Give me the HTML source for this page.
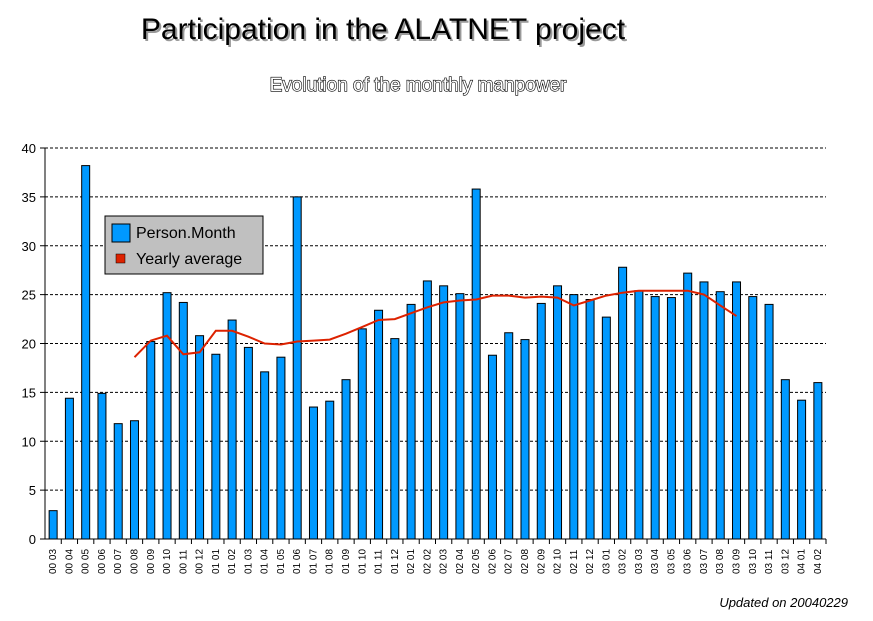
<!DOCTYPE html>
<html><head><meta charset="utf-8"><style>
body{margin:0;background:#fff;width:873px;height:616px;overflow:hidden;font-family:"Liberation Sans",sans-serif}
</style></head><body>
<svg width="873" height="616" xmlns="http://www.w3.org/2000/svg">
<text x="385" y="41" font-size="30" text-anchor="middle" fill="#999">Participation in the ALATNET project</text>
<text x="383" y="39" font-size="30" text-anchor="middle" fill="#000">Participation in the ALATNET project</text>
<text x="418" y="91" font-size="19" text-anchor="middle" fill="#fff" stroke="#000" stroke-width="1.2" paint-order="stroke">Evolution of the monthly manpower</text>
<g id="grid"></g><g id="bars"></g><g id="axes"></g>
<path id="avg" fill="none" stroke="#dd2200" stroke-width="2"/>
<g>
<rect x="105" y="216" width="158" height="58" fill="#c0c0c0" stroke="#000"/>
<rect x="112" y="224" width="18" height="18" fill="#0099ff" stroke="#000"/>
<text x="136" y="238" font-size="16">Person.Month</text>
<rect x="116" y="254" width="9" height="9" fill="#dd2200" stroke="#000" stroke-width="0.5"/>
<text x="136" y="264" font-size="16">Yearly average</text>
</g>
<text x="848" y="607" font-size="13" font-style="italic" text-anchor="end">Updated on 20040229</text>
</svg>
<script>
const categories=["00 03","00 04","00 05","00 06","00 07","00 08","00 09","00 10","00 11","00 12","01 01","01 02","01 03","01 04","01 05","01 06","01 07","01 08","01 09","01 10","01 11","01 12","02 01","02 02","02 03","02 04","02 05","02 06","02 07","02 08","02 09","02 10","02 11","02 12","03 01","03 02","03 03","03 04","03 05","03 06","03 07","03 08","03 09","03 10","03 11","03 12","04 01","04 02"];
const personMonth=[2.9,14.4,38.2,14.9,11.8,12.1,20.2,25.2,24.2,20.8,18.9,22.4,19.6,17.1,18.6,35,13.5,14.1,16.3,21.5,23.4,20.5,24,26.4,25.9,25.1,35.8,18.8,21.1,20.4,24.1,25.9,25,24.5,22.7,27.8,25.4,24.8,24.7,27.2,26.3,25.3,26.3,24.8,24,16.3,14.2,16];
const avgStart=5;
const yearlyAvg=[18.6,20.3,20.8,18.9,19.1,21.3,21.3,20.7,20.0,19.9,20.2,20.3,20.4,21.0,21.7,22.4,22.5,23.1,23.7,24.2,24.4,24.5,24.9,24.9,24.7,24.8,24.7,23.9,24.4,24.9,25.2,25.4,25.4,25.4,25.4,25.0,23.9,22.8];
const yTicks=[0,5,10,15,20,25,30,35,40];
const NS="http://www.w3.org/2000/svg";
const x0=45,x1=826,yb=539,yt=148,ymax=40;
const bw=(x1-x0)/categories.length;
const X=i=>x0+bw*(i+0.5);
const Y=v=>yb-(v/ymax)*(yb-yt);
function mk(t,a,p){const e=document.createElementNS(NS,t);for(const k in a)e.setAttribute(k,a[k]);p.appendChild(e);return e;}
const grid=document.getElementById('grid'),bars=document.getElementById('bars'),axes=document.getElementById('axes');
yTicks.forEach(v=>{
 if(v>0){const l=mk('line',{x1:x0,x2:x1,y1:Y(v),y2:Y(v),stroke:'#000','stroke-dasharray':'3,2'},grid);
 
 }
 const t=mk('text',{x:x0-9,y:Y(v)+5,'font-size':13,'text-anchor':'end'},axes);t.textContent=v;
 
 
 mk('line',{x1:x0-5,x2:x0,y1:Y(v),y2:Y(v),stroke:'#000'},axes);
});
personMonth.forEach((v,i)=>{
 const r=mk('rect',{x:X(i)-4,y:Y(v),width:8,height:yb-Y(v),fill:'#0099ff',stroke:'#000','stroke-width':1},bars);
 
 
});
mk('line',{x1:x0,x2:x0,y1:yt,y2:yb,stroke:'#000'},axes);
mk('line',{x1:x0,x2:x1,y1:yb,y2:yb,stroke:'#000'},axes);
categories.forEach((c,i)=>{
 mk('line',{x1:x0+bw*(i+1),x2:x0+bw*(i+1),y1:yb,y2:yb+5,stroke:'#000'},axes);
 const t=mk('text',{transform:`translate(${X(i)+3},574) rotate(-90)`,'font-size':10},axes);t.textContent=c;
 
 
});
let d='';yearlyAvg.forEach((v,k)=>{d+=(k?'L':'M')+X(k+avgStart).toFixed(1)+','+Y(v).toFixed(1);});
document.getElementById('avg').setAttribute('d',d);
</script>
</body></html>
